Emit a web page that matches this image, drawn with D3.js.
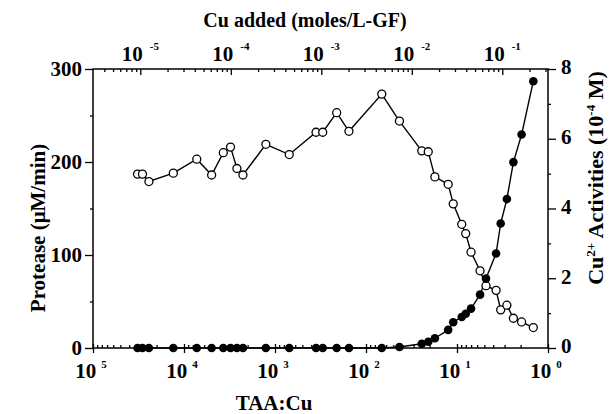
<!DOCTYPE html>
<html><head><meta charset="utf-8">
<script src="https://cdn.jsdelivr.net/npm/d3@7"></script>
<style>
body{margin:0;background:#fff}
svg{display:block}
text{font-family:"Liberation Serif","Times New Roman",serif;font-weight:bold;fill:#000}
.axis path{display:none}
.axis line{stroke:#000;stroke-width:1.3}
</style>
</head><body><svg id="c" width="613" height="414"></svg>
<script>
// TAA:Cu ratio (bottom axis) for each sample
const taaCu = [32400, 28600, 24300, 13100, 7240, 4970, 3700, 3080, 2620, 2250,
  1260, 697, 354, 299, 210, 154, 67.1, 42.9, 24.4, 20.7,
  17.5, 12.5, 11.0, 8.87, 8.02, 7.01, 5.58, 4.80, 3.72, 3.31,
  2.83, 2.40, 1.95, 1.45];
// Protease (uM/min), open circles, left axis
const protease = [187, 187, 179, 188, 203, 186, 210, 216, 193, 186,
  219, 208, 232, 232, 253, 233, 273, 244, 212, 211,
  184, 176, 155, 133, 123, 103, 83, 67, 62, 41,
  46, 32, 28, 22];
// Cu2+ activity (1e-4 M), filled circles, right axis
const cuActivity = [0, 0, 0, 0, 0, 0, 0, 0, 0, 0,
  0, 0, 0, 0, 0, 0, 0, 0.03, 0.12, 0.18,
  0.28, 0.52, 0.74, 0.89, 0.98, 1.13, 1.53, 1.99, 2.71, 3.57,
  4.27, 5.33, 6.12, 7.65];

const bottomTicks = [1e5, 1e4, 1e3, 1e2, 1e1, 1e0];
const bottomExp = ["5", "4", "3", "2", "1", "0"];
const topTicks = [1e-5, 1e-4, 1e-3, 1e-2, 1e-1];
const topExp = ["-5", "-4", "-3", "-2", "-1"];
const leftTicks = [0, 100, 200, 300];
const leftMinor = [50, 150, 250];
const rightTicks = [0, 2, 4, 6, 8];
const rightMinor = [1, 3, 5, 7];

const L = 93, R = 548, T = 69, B = 348;
const svg = d3.select("#c");

const x = d3.scaleLog().domain([1e5, 1]).range([L, R]);
const xTop = d3.scaleLog().domain([3e-6, 0.32]).range([L, R]);
const yL = d3.scaleLinear().domain([0, 300]).range([B, T]);
const yR = d3.scaleLinear().domain([0, 8]).range([B, T]);

function minorLog(lo, hi) {
  const out = [];
  for (let k = Math.floor(Math.log10(lo)) - 1; k <= Math.ceil(Math.log10(hi)); k++) {
    for (let m = 2; m <= 9; m++) {
      const v = m * Math.pow(10, k);
      if (v > lo * 1.0001 && v < hi * 0.9999) out.push(v);
    }
  }
  return out;
}

// frame
svg.append("rect").attr("x", L).attr("y", T).attr("width", R - L).attr("height", B - T)
  .attr("fill", "none").attr("stroke", "#000").attr("stroke-width", 1.5);

// bottom axis
svg.append("g").attr("class", "axis").attr("transform", `translate(0,${B})`)
  .call(d3.axisBottom(x).tickValues(minorLog(1, 1e5)).tickSize(-3).tickFormat(""));
svg.append("g").attr("class", "axis").attr("transform", `translate(0,${B})`)
  .call(d3.axisBottom(x).tickValues(bottomTicks).tickSize(5).tickFormat(""));
svg.append("g").attr("class", "axis").attr("transform", `translate(0,${B})`)
  .call(d3.axisBottom(x).tickValues(bottomTicks).tickSize(-4).tickFormat(""));
const bl = svg.append("g").selectAll("text").data(bottomTicks).join("text")
  .attr("x", d => x(d) - 2).attr("y", 378).attr("text-anchor", "middle").attr("font-size", 21);
bl.append("tspan").text("10");
bl.append("tspan").attr("dx", 5).attr("dy", -10).attr("font-size", 11).text((d, i) => bottomExp[i]);

// top axis
svg.append("g").attr("class", "axis").attr("transform", `translate(0,${T})`)
  .call(d3.axisTop(xTop).tickValues(minorLog(3e-6, 0.32)).tickSize(-3).tickFormat(""));
svg.append("g").attr("class", "axis").attr("transform", `translate(0,${T})`)
  .call(d3.axisTop(xTop).tickValues(topTicks).tickSize(-6).tickFormat(""));
const tl = svg.append("g").selectAll("text").data(topTicks).join("text")
  .attr("x", d => xTop(d)).attr("y", 61).attr("text-anchor", "middle").attr("font-size", 21);
tl.append("tspan").text("10");
tl.append("tspan").attr("dx", 7).attr("dy", -11).attr("font-size", 11).text((d, i) => topExp[i]);

// left axis
svg.append("g").attr("class", "axis").attr("transform", `translate(${L},0)`)
  .call(d3.axisLeft(yL).tickValues(leftTicks).tickSize(8).tickFormat(""));
svg.append("g").attr("class", "axis").attr("transform", `translate(${L},0)`)
  .call(d3.axisLeft(yL).tickValues(leftMinor).tickSize(3).tickFormat(""));
svg.append("g").selectAll("text").data(leftTicks).join("text")
  .attr("x", 82).attr("y", d => yL(d)).attr("dy", "0.35em").attr("text-anchor", "end")
  .attr("font-size", 21).text(d => d);

// right axis
svg.append("g").attr("class", "axis").attr("transform", `translate(${R},0)`)
  .call(d3.axisRight(yR).tickValues(rightTicks).tickSize(8).tickFormat(""));
svg.append("g").attr("class", "axis").attr("transform", `translate(${R},0)`)
  .call(d3.axisRight(yR).tickValues(rightMinor).tickSize(3).tickFormat(""));
svg.append("g").selectAll("text").data(rightTicks).join("text")
  .attr("x", 561).attr("y", d => yR(d) - 2).attr("dy", "0.35em").attr("text-anchor", "start")
  .attr("font-size", 21).text(d => d);

// titles
svg.append("text").attr("x", 305).attr("y", 27).attr("text-anchor", "middle")
  .attr("font-size", 20).text("Cu added (moles/L-GF)");
svg.append("text").attr("x", 274).attr("y", 410).attr("text-anchor", "middle")
  .attr("font-size", 21).text("TAA:Cu");
svg.append("text").attr("transform", "translate(45,228) rotate(-90)").attr("text-anchor", "middle")
  .attr("font-size", 21).text("Protease (\u03BCM/min)");
const rt = svg.append("text").attr("transform", "translate(603,178) rotate(-90)")
  .attr("text-anchor", "middle").attr("font-size", 22);
rt.append("tspan").text("Cu");
rt.append("tspan").attr("dy", -8).attr("font-size", 13).text("2+");
rt.append("tspan").attr("dy", 8).text(" Activities (10");
rt.append("tspan").attr("dy", -8).attr("font-size", 13).text("-4");
rt.append("tspan").attr("dy", 8).text(" M)");

// data
const idx = d3.range(taaCu.length);
const lineL = d3.line().x(i => x(taaCu[i])).y(i => yL(protease[i]));
const lineR = d3.line().x(i => x(taaCu[i])).y(i => yR(cuActivity[i]));
svg.append("path").attr("d", lineL(idx)).attr("fill", "none").attr("stroke", "#000").attr("stroke-width", 1.4);
svg.append("path").attr("d", lineR(idx)).attr("fill", "none").attr("stroke", "#000").attr("stroke-width", 1.4);
svg.append("g").selectAll("circle").data(idx).join("circle")
  .attr("cx", i => x(taaCu[i])).attr("cy", i => yL(protease[i])).attr("r", 4)
  .attr("fill", "#fff").attr("stroke", "#000").attr("stroke-width", 1.3);
svg.append("g").selectAll("circle").data(idx).join("circle")
  .attr("cx", i => x(taaCu[i])).attr("cy", i => yR(cuActivity[i])).attr("r", 4.3)
  .attr("fill", "#000");
</script>
</body></html>
